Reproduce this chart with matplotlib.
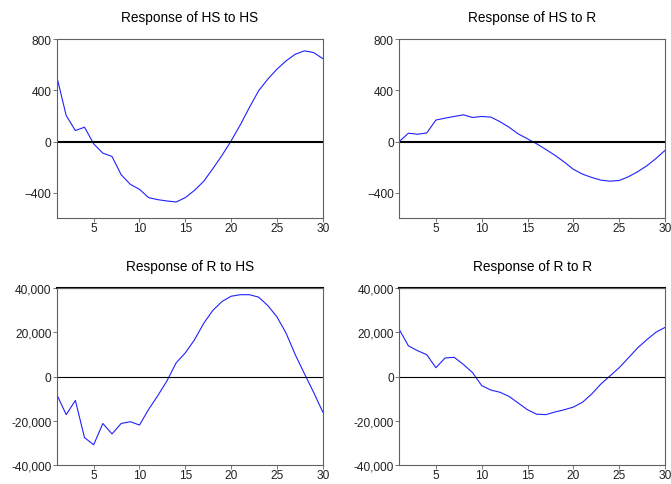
import numpy as np
import matplotlib
matplotlib.use("Agg")
import matplotlib.pyplot as plt
from matplotlib.ticker import FuncFormatter

plt.rcParams['font.family'] = ['Liberation Sans', 'DejaVu Sans']

periods = np.arange(1, 31)

hs_to_hs = [500, 203, 86, 112, -18, -91, -117, -260, -335, -374,
            -439, -455, -465, -473, -439, -382, -312, -213, -109, 5,
            130, 267, 397, 488, 566, 631, 683, 709, 696, 649]
hs_to_r = [0, 65, 57, 67, 168, 183, 196, 209, 188, 196,
           191, 155, 111, 59, 21, -18, -62, -108, -160, -217,
           -255, -281, -302, -310, -305, -276, -237, -191, -134, -70]
r_to_hs = [-8300, -17200, -10800, -27600, -30800, -21200, -25900, -21200, -20400, -21900,
           -14800, -8600, -1900, 6200, 10700, 16600, 24000, 29900, 33900, 36300,
           37000, 37000, 35900, 32100, 27000, 19600, 9900, 1300, -7100, -16000]
r_to_r = [21300, 13900, 11700, 9900, 4000, 8400, 8700, 5500, 1800, -4100,
          -6100, -7100, -9000, -12000, -15000, -17000, -17200, -16000, -15000, -13800,
          -11600, -7900, -3400, 300, 4000, 8400, 12900, 16600, 20000, 22200]

titles = ["Response of HS to HS", "Response of HS to R",
          "Response of R to HS", "Response of R to R"]
series = [hs_to_hs, hs_to_r, r_to_hs, r_to_r]

fig = plt.figure(figsize=(6.71, 4.85), dpi=100)
positions = [[0.085, 0.548, 0.396, 0.369], [0.595, 0.548, 0.396, 0.369],
             [0.085, 0.039, 0.396, 0.365], [0.595, 0.039, 0.396, 0.365]]

for i in range(4):
    ax = fig.add_axes(positions[i])
    ax.plot(periods, series[i], color='#2020ff', lw=0.8)
    ax.set_xlim(1, 30)
    ax.set_xticks([5, 10, 15, 20, 25, 30])
    if i < 2:
        ax.set_ylim(-600, 800)
        ax.set_yticks([-400, 0, 400, 800])
        ax.axhline(0, color='black', lw=1.5)
    else:
        ax.set_ylim(-40000, 40000)
        ax.set_yticks([-40000, -20000, 0, 20000, 40000])
        ax.yaxis.set_major_formatter(FuncFormatter(lambda v, p: f"{int(v):,}"))
        ax.axhline(0, color='black', lw=0.8)
        ax.axhline(40000, color='black', lw=1.5, clip_on=False)
    for s in ax.spines.values():
        s.set_color('#606060')
        s.set_linewidth(0.8)
    ax.tick_params(labelsize=8.6, length=3, width=0.6, color='#606060',
                   labelcolor='#222222', pad=1)
    ax.tick_params(axis='x', pad=0)
    ax.set_title(titles[i], fontsize=9.8, pad=13)

fig.savefig("out.png", dpi=100)
